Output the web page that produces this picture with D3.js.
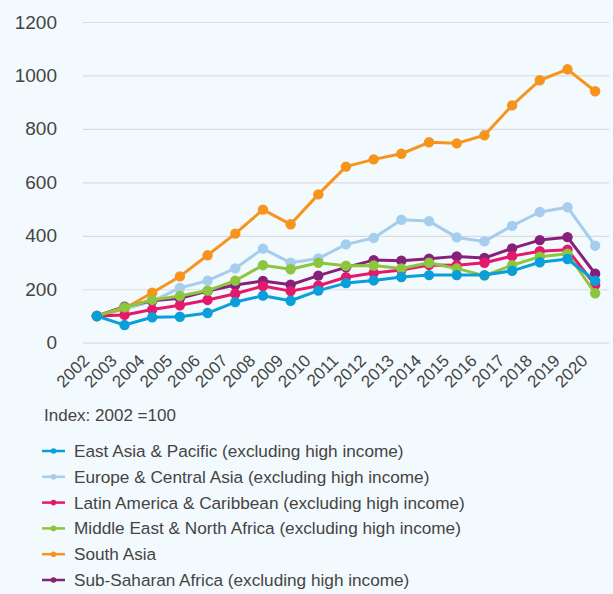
<!DOCTYPE html>
<html>
<head>
<meta charset="utf-8">
<script src="https://cdn.jsdelivr.net/npm/d3@7"></script>
<style>
  body { margin: 0; background: #f3fafd; }
  svg { display: block; font-family: "Liberation Sans", Arial, sans-serif; }
  .tick text { fill: #444; }
</style>
</head>
<body>
<div id="chart"></div>
<script>
// years on the x axis
var years = ["2002","2003","2004","2005","2006","2007","2008","2009","2010","2011",
             "2012","2013","2014","2015","2016","2017","2018","2019","2020"];
var yTicks = [0, 200, 400, 600, 800, 1000, 1200];

// series values (Index: 2002 = 100)
var eastAsia   = [100, 66, 95, 97, 111, 152, 176, 157, 195, 223, 233, 246, 253, 253, 253, 269, 301, 313, 232];
var europe     = [100, 126, 155, 205, 232, 278, 352, 299, 315, 368, 392, 460, 455, 394, 379, 437, 489, 507, 363];
var latinAm    = [100, 104, 124, 140, 160, 183, 212, 193, 213, 245, 261, 272, 291, 290, 299, 324, 342, 348, 216];
var middleEast = [100, 132, 160, 175, 195, 232, 290, 275, 299, 288, 289, 278, 299, 278, 251, 290, 322, 333, 185];
var southAsia  = [100, 128, 187, 248, 327, 408, 498, 443, 555, 659, 686, 707, 750, 746, 776, 888, 982, 1023, 941];
var subSahara  = [100, 135, 157, 166, 193, 216, 231, 217, 251, 282, 309, 307, 314, 323, 317, 353, 384, 395, 258];

var names = ["East Asia & Pacific (excluding high income)",
             "Europe & Central Asia (excluding high income)",
             "Latin America & Caribbean (excluding high income)",
             "Middle East & North Africa (excluding high income)",
             "South Asia",
             "Sub-Saharan Africa (excluding high income)"];
var colors = ["#0b9fda", "#a5cdee", "#e5196c", "#8cc63e", "#f7941d", "#862078"];
var values = [eastAsia, europe, latinAm, middleEast, southAsia, subSahara];

var width = 613, height = 594;
var margin = { top: 22, left: 83, right: 4 };
var plotBottom = 342.7;

var svg = d3.select("#chart").append("svg")
    .attr("width", width)
    .attr("height", height);

var x = d3.scalePoint().domain(years)
    .range([margin.left, width - margin.right]).padding(0.5);
var y = d3.scaleLinear().domain([0, 1200]).range([plotBottom, margin.top]);

// gridlines + y labels
var yAxis = svg.append("g")
    .attr("transform", "translate(" + margin.left + ",0)")
    .call(d3.axisLeft(y).tickValues(yTicks).tickSize(-(width - margin.right - margin.left)).tickPadding(26).tickFormat(d3.format("d")));
yAxis.select(".domain").remove();
yAxis.selectAll(".tick line").attr("stroke", "#d8dcdf").attr("stroke-width", 1.2);
yAxis.selectAll(".tick text").attr("font-size", 19);

// x labels
var xAxis = svg.append("g")
    .attr("transform", "translate(0," + plotBottom + ")")
    .call(d3.axisBottom(x).tickSize(0).tickPadding(0));
xAxis.select(".domain").remove();
xAxis.selectAll(".tick text")
    .attr("font-size", 17)
    .attr("text-anchor", "end")
    .attr("dy", 0)
    .attr("transform", "translate(-7,19) rotate(-45)");

// draw series (back to front)
var order = [1, 5, 4, 2, 3, 0];
var line = d3.line().x(function (d, i) { return x(years[i]); }).y(function (d) { return y(d); });

order.forEach(function (k) {
  var g = svg.append("g");
  g.append("path")
    .datum(values[k])
    .attr("fill", "none")
    .attr("stroke", colors[k])
    .attr("stroke-width", 3)
    .attr("stroke-linejoin", "round")
    .attr("d", line);
  g.selectAll("circle")
    .data(values[k])
    .enter().append("circle")
    .attr("cx", function (d, i) { return x(years[i]); })
    .attr("cy", function (d) { return y(d); })
    .attr("r", 5.2)
    .attr("fill", colors[k]);
});

// index note
svg.append("text")
    .attr("x", 44).attr("y", 421)
    .attr("font-size", 17)
    .attr("fill", "#444")
    .text("Index: 2002 =100");

// legend
var legend = svg.selectAll(".legend")
    .data(names)
    .enter().append("g")
    .attr("class", "legend")
    .attr("transform", function (d, i) { return "translate(0," + (451 + i * 25.8) + ")"; });
legend.append("line")
    .attr("x1", 42).attr("x2", 65)
    .attr("stroke", function (d, i) { return colors[i]; })
    .attr("stroke-width", 2.5);
legend.append("circle")
    .attr("cx", 53.5).attr("r", 2.8)
    .attr("fill", function (d, i) { return colors[i]; });
legend.append("text")
    .attr("x", 74).attr("dy", "0.35em")
    .attr("font-size", 17.2)
    .attr("fill", "#444")
    .text(function (d) { return d; });
</script>
</body>
</html>
